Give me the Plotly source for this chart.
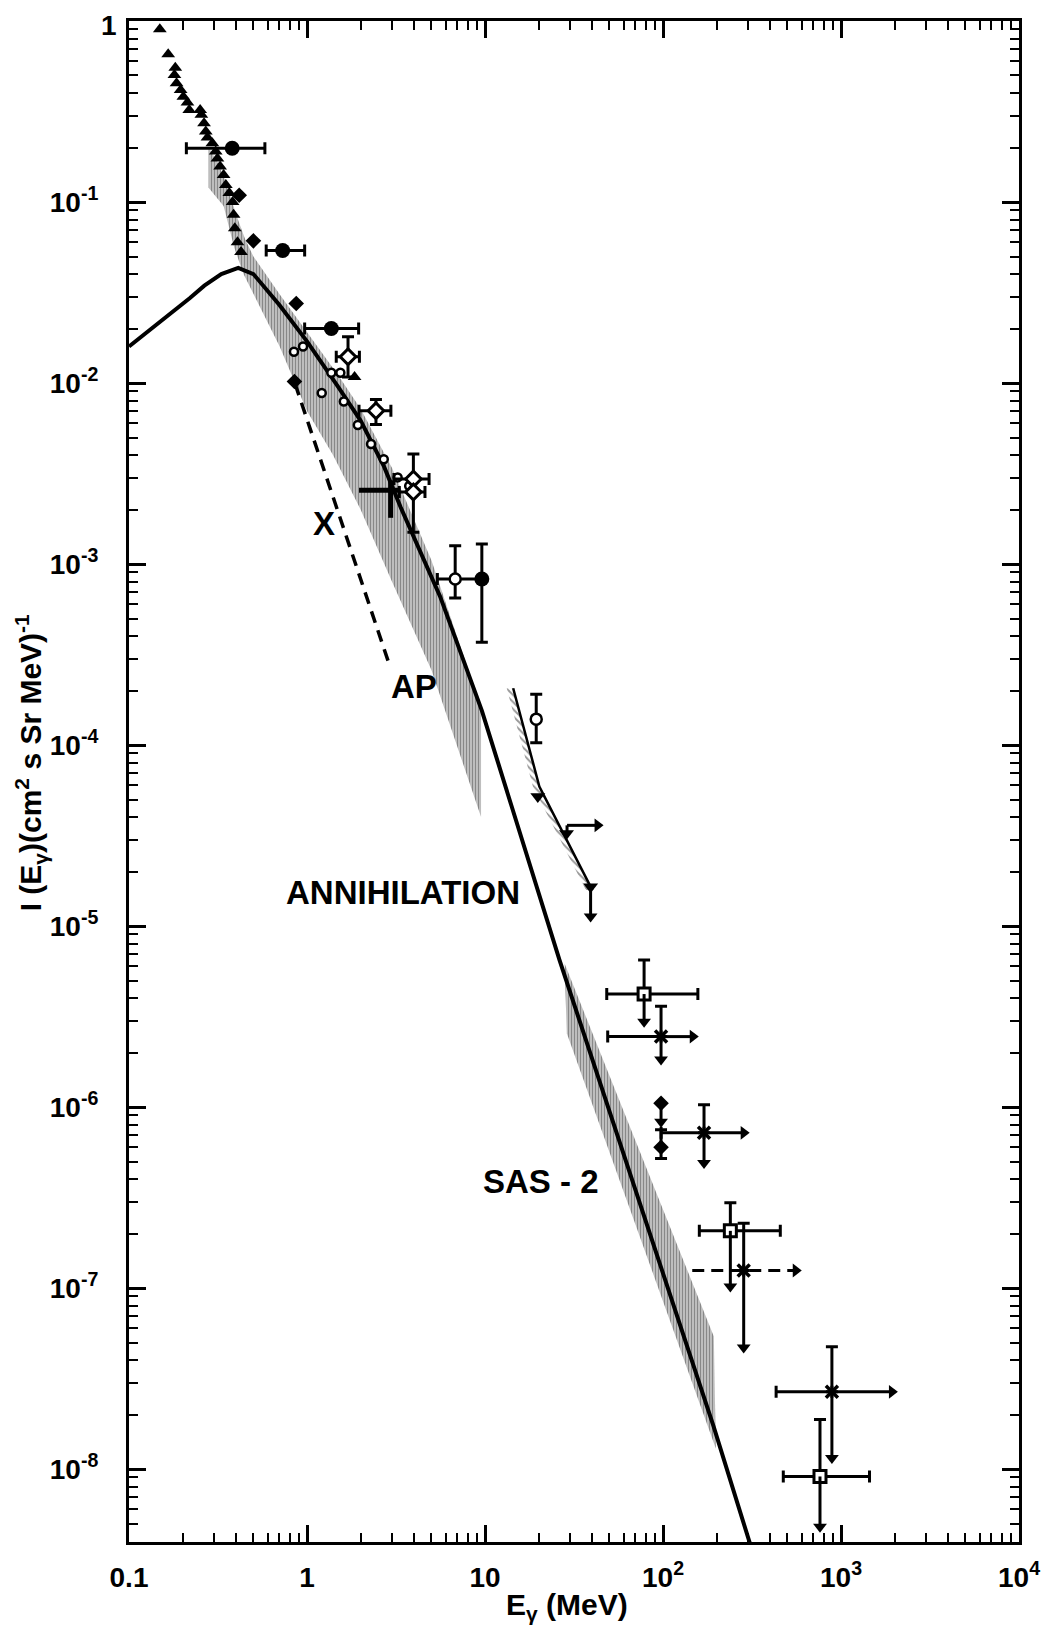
import numpy as np
import plotly.graph_objects as go

# ---------------- data (E in MeV, I in cm^-2 s^-1 sr^-1 MeV^-1) ----------------
# low-energy filled triangles
tri_E = [0.149, 0.166, 0.182, 0.180, 0.185, 0.195, 0.202, 0.213, 0.218, 0.251, 0.255,
         0.264, 0.270, 0.276, 0.294, 0.307, 0.314, 0.325, 0.340, 0.350, 0.366, 0.382,
         0.387, 0.393, 0.407, 0.426, 1.85]
tri_I = [0.90, 0.655, 0.552, 0.503, 0.453, 0.416, 0.382, 0.355, 0.322, 0.322, 0.303,
         0.272, 0.245, 0.227, 0.211, 0.190, 0.174, 0.157, 0.141, 0.124, 0.112, 0.100,
         0.085, 0.0716, 0.060, 0.053, 0.0108]

# filled diamonds inside the band
fd_E = [0.416, 0.50, 0.87, 0.85]
fd_I = [0.109, 0.061, 0.0275, 0.0102]

# filled circles with error bars
fc_E = [0.38, 0.73, 1.37, 9.6]
fc_I = [0.198, 0.054, 0.020, 8.26e-4]
fc_Elo = [0.21, 0.59, 0.97, 9.6]
fc_Ehi = [0.58, 0.97, 1.95, 9.6]
fc_Ilo = [0.198, 0.054, 0.020, 3.7e-4]
fc_Ihi = [0.198, 0.054, 0.020, 1.29e-3]

# open diamonds with error bars
od_E = [1.70, 2.44, 3.96, 3.96]
od_I = [0.01397, 7.03e-3, 2.95e-3, 2.5e-3]
od_Elo = [1.46, 1.96, 3.08, 3.30]
od_Ehi = [1.97, 2.96, 4.85, 4.60]
od_Ilo = [0.0108, 5.9e-3, 2.95e-3, 1.5e-3]
od_Ihi = [0.018, 8.1e-3, 4.05e-3, 2.5e-3]

# small open circles along the band
sc_E = [0.845, 0.95, 1.21, 1.37, 1.54, 1.61, 1.93, 2.29, 2.7, 3.23, 3.75]
sc_I = [0.0149, 0.0159, 8.8e-3, 0.0114, 0.0114, 7.9e-3, 5.86e-3, 4.6e-3, 3.79e-3, 3.01e-3, 2.7e-3]

# larger open circles with error bars
oc_E = [6.8, 19.4]
oc_I = [8.26e-4, 1.39e-4]
oc_Elo = [5.4, 19.4]
oc_Ehi = [9.6, 19.4]
oc_Ilo = [6.5e-4, 1.03e-4]
oc_Ihi = [1.26e-3, 1.91e-4]

# bar-only cross near 3 MeV
tc_E = [2.95]
tc_I = [2.56e-3]
tc_Elo = [1.96]
tc_Ehi = [3.29]
tc_Ilo = [1.8e-3]
tc_Ihi = [2.9e-3]

# hatched band 1 (0.3 - 10 MeV)
b1_up_E = [0.28, 0.31, 0.35, 0.40, 0.45, 0.5, 0.7, 1.0, 1.5, 2.0, 3.0, 5.0, 9.5]
b1_up_I = [0.20, 0.17, 0.13, 0.085, 0.062, 0.050, 0.031, 0.019, 0.011, 0.0072, 0.0034, 0.00105, 0.00016]
b1_lo_E = [9.5, 5.0, 3.0, 2.0, 1.4, 1.0, 0.7, 0.5, 0.44, 0.39, 0.34, 0.28]
b1_lo_I = [4.0e-5, 2.6e-4, 8.0e-4, 2.0e-3, 4.0e-3, 7.0e-3, 0.016, 0.031, 0.040, 0.056, 0.095, 0.12]

# hatched band 2 (SAS-2, 30 - 200 MeV)
b2_E = [28.0, 193.0, 198.0, 28.8]
b2_I = [6.2e-6, 5.4e-8, 1.3e-8, 2.56e-6]

# annihilation model curve
line_E = [0.1, 0.13, 0.171, 0.22, 0.265, 0.33, 0.411, 0.5, 0.7, 1.0, 1.5, 2.0, 2.71, 3.35,
          5.6, 9.6, 26.2, 192.0, 310.0]
line_I = [0.0159, 0.0195, 0.024, 0.0295, 0.0345, 0.040, 0.0433, 0.040, 0.027, 0.017, 0.0095,
          0.0062, 0.00345, 0.00207, 0.00066, 0.000155, 6.5e-6, 1.73e-8, 3.8e-9]

# dashed line (X / AP)
dash_E = [0.857, 2.92]
dash_I = [9.9e-3, 2.73e-4]

# hatched upper-limit line (15 - 40 MeV)
ul_E = [14.4, 20.2, 40.1]
ul_I = [2.06e-4, 5.9e-5, 1.58e-5]

# filled down-triangles near the upper-limit line
dt_E = [19.8, 28.7, 39.2]
dt_I = [5.2e-5, 3.25e-5, 1.65e-5]
dt_arrowI = [5.2e-5, 3.25e-5, 1.13e-5]   # downward arrow tips
dtr_E0 = [28.9]
dtr_I = [3.6e-5]
dtr_E1 = [42.9]

# open squares (upper limits)
sq_E = [78.3, 239.0, 762.0]
sq_I = [4.21e-6, 2.07e-7, 9.1e-9]
sq_Elo = [48.3, 160.0, 474.0]
sq_Ehi = [157.0, 456.0, 1446.0]
sq_Itop = [6.5e-6, 2.96e-7, 1.88e-8]
sq_Iarrow = [2.96e-6, 1.02e-7, 4.8e-9]

# x-marks (upper limits, lower limits in energy)
xm_E = [97.5, 170.0, 284.0, 889.0]
xm_I = [2.45e-6, 7.2e-7, 1.25e-7, 2.67e-8]
xm_Elo = [48.9, 97.6, 146.0, 432.0]
xm_Earrow = [147.0, 284.0, 557.0, 1932.0]
xm_Itop = [3.6e-6, 1.03e-6, 2.28e-7, 4.74e-8]
xm_Iarrow = [1.83e-6, 4.9e-7, 4.7e-8, 1.15e-8]
xm_dashed = [False, False, True, False]

# filled diamonds at 100 MeV
dm_E = [97.5, 97.5]
dm_I = [1.05e-6, 6.0e-7]
dm_Ilo = [1.05e-6, 5.2e-7]
dm_Ihi = [1.05e-6, 7.5e-7]
dm_arrowI = [8.3e-7, 6.0e-7]

# text labels
lab_text = ["X", "AP", "ANNIHILATION", "SAS - 2"]
lab_E = [1.25, 4.0, 3.45, 20.6]
lab_I = [1.68e-3, 2.1e-4, 1.53e-5, 3.9e-7]

# axis ticks
x_tickvals = [0.1, 1, 10, 100, 1000, 10000]
x_ticktext = ["0.1", "1", "10", "10<sup>2</sup>", "10<sup>3</sup>", "10<sup>4</sup>"]
y_tickvals = [1, 1e-1, 1e-2, 1e-3, 1e-4, 1e-5, 1e-6, 1e-7, 1e-8]
y_ticktext = [""] + ["10<sup>-%d</sup>" % k for k in range(1, 9)]   # "1" drawn as annotation
y_top_label = "1"

# ---------------- figure ----------------
K = "black"
FONT = "Liberation Sans, Arial"
fig = go.Figure()


def a(v):
    return np.asarray(v, dtype=float)


def errs(c, lo, hi):
    return dict(type="data", symmetric=False, array=a(hi) - a(c), arrayminus=a(c) - a(lo),
                thickness=3, width=6, color=K)


def segs(x0, y0, x1, y1):
    xs, ys = [], []
    for p, q, r, s in zip(x0, y0, x1, y1):
        xs += [p, r, None]
        ys += [q, s, None]
    return xs, ys


hatch = dict(shape="|", size=3, solidity=0.7, fgcolor="#111111", bgcolor="rgba(0,0,0,0)")
clear = "rgba(0,0,0,0)"

# band 1
fig.add_trace(go.Scatter(x=b1_up_E + b1_lo_E, y=b1_up_I + b1_lo_I, mode="lines", fill="toself",
                         line=dict(width=0, color=clear), fillcolor=clear,
                         fillpattern=hatch, hoverinfo="skip"))
# band 2
fig.add_trace(go.Scatter(x=b2_E, y=b2_I, mode="lines", fill="toself",
                         line=dict(width=0, color=clear), fillcolor=clear,
                         fillpattern=hatch, hoverinfo="skip"))
# hatched upper-limit line: narrow hatched strip on its low-energy side
ulh_E = list(a(ul_E)) + list(a(ul_E)[::-1] * 0.92)
ulh_I = list(a(ul_I)) + list(a(ul_I)[::-1])
fig.add_trace(go.Scatter(x=ulh_E, y=ulh_I, mode="lines", fill="toself",
                         line=dict(width=0, color=clear), fillcolor=clear,
                         fillpattern=dict(shape="\\", size=5, solidity=0.4, fgcolor="#333333",
                                          bgcolor=clear), hoverinfo="skip"))
fig.add_trace(go.Scatter(x=ul_E, y=ul_I, mode="lines", line=dict(color=K, width=2.5)))

# model line
fig.add_trace(go.Scatter(x=line_E, y=line_I, mode="lines", line=dict(color=K, width=4)))
# dashed line
fig.add_trace(go.Scatter(x=dash_E, y=dash_I, mode="lines",
                         line=dict(color=K, width=3.5, dash="12px,8px")))

# triangles
fig.add_trace(go.Scatter(x=tri_E, y=tri_I, mode="markers",
                         marker=dict(symbol="triangle-up", size=12, color=K)))
# filled diamonds in band
fig.add_trace(go.Scatter(x=fd_E, y=fd_I, mode="markers",
                         marker=dict(symbol="diamond", size=12, color=K)))
# filled circles
fig.add_trace(go.Scatter(x=fc_E, y=fc_I, mode="markers",
                         marker=dict(symbol="circle", size=15, color=K),
                         error_x=errs(fc_E, fc_Elo, fc_Ehi), error_y=errs(fc_I, fc_Ilo, fc_Ihi)))
# bar-only cross
fig.add_trace(go.Scatter(x=tc_E, y=tc_I, mode="markers", marker=dict(size=1, color=K),
                         error_x=dict(errs(tc_E, tc_Elo, tc_Ehi), thickness=5, width=0),
                         error_y=dict(errs(tc_I, tc_Ilo, tc_Ihi), thickness=5, width=0)))
# small open circles
fig.add_trace(go.Scatter(x=sc_E, y=sc_I, mode="markers",
                         marker=dict(symbol="circle", size=8, color="white", line=dict(color=K, width=2.5))))
# open diamonds
fig.add_trace(go.Scatter(x=od_E, y=od_I, mode="markers",
                         marker=dict(symbol="diamond", size=12, color="white", line=dict(color=K, width=3)),
                         error_x=errs(od_E, od_Elo, od_Ehi), error_y=errs(od_I, od_Ilo, od_Ihi)))
# open circles with bars
fig.add_trace(go.Scatter(x=oc_E, y=oc_I, mode="markers",
                         marker=dict(symbol="circle", size=11, color="white", line=dict(color=K, width=2.5)),
                         error_x=errs(oc_E, oc_Elo, oc_Ehi), error_y=errs(oc_I, oc_Ilo, oc_Ihi)))

# down triangles + arrows
fig.add_trace(go.Scatter(x=dt_E, y=dt_I, mode="markers",
                         marker=dict(symbol="triangle-down", size=13, color=K)))
sx, sy = segs(dt_E, dt_I, dt_E, dt_arrowI)
fig.add_trace(go.Scatter(x=sx, y=sy, mode="lines", line=dict(color=K, width=3)))
sx, sy = segs(dtr_E0, dtr_I, dtr_E1, dtr_I)
fig.add_trace(go.Scatter(x=sx, y=sy, mode="lines", line=dict(color=K, width=3)))
sx, sy = segs(dtr_E0, dtr_I, dtr_E0, [dt_I[1]])
fig.add_trace(go.Scatter(x=sx, y=sy, mode="lines", line=dict(color=K, width=3)))

# filled diamonds at 100 MeV
fig.add_trace(go.Scatter(x=dm_E, y=dm_I, mode="markers",
                         marker=dict(symbol="diamond", size=12, color=K),
                         error_y=errs(dm_I, dm_Ilo, dm_Ihi)))
sx, sy = segs(dm_E, dm_I, dm_E, dm_arrowI)
fig.add_trace(go.Scatter(x=sx, y=sy, mode="lines", line=dict(color=K, width=3)))

# open squares
fig.add_trace(go.Scatter(x=sq_E, y=sq_I, mode="markers",
                         marker=dict(symbol="square", size=12, color="white", line=dict(color=K, width=3)),
                         error_x=errs(sq_E, sq_Elo, sq_Ehi), error_y=errs(sq_I, sq_I, sq_Itop)))
sx, sy = segs(sq_E, sq_I, sq_E, sq_Iarrow)
fig.add_trace(go.Scatter(x=sx, y=sy, mode="lines", line=dict(color=K, width=3)))

# x-marks
xm_lo_used = [xm_E[i] if xm_dashed[i] else xm_Elo[i] for i in range(len(xm_E))]
sol = [i for i in range(len(xm_E)) if not xm_dashed[i]]
das = [i for i in range(len(xm_E)) if xm_dashed[i]]
sx, sy = segs([xm_E[i] for i in sol], [xm_I[i] for i in sol],
              [xm_Earrow[i] for i in sol], [xm_I[i] for i in sol])
fig.add_trace(go.Scatter(x=sx, y=sy, mode="lines", line=dict(color=K, width=3)))
sx, sy = segs([xm_Elo[i] for i in das], [xm_I[i] for i in das],
              [xm_Earrow[i] for i in das], [xm_I[i] for i in das])
fig.add_trace(go.Scatter(x=sx, y=sy, mode="lines", line=dict(color=K, width=3, dash="12px,7px")))
sx, sy = segs(xm_E, xm_I, xm_E, xm_Iarrow)
fig.add_trace(go.Scatter(x=sx, y=sy, mode="lines", line=dict(color=K, width=3)))
fig.add_trace(go.Scatter(x=xm_E, y=xm_I, mode="markers",
                         marker=dict(symbol="x-thin", size=12, color=K, line=dict(color=K, width=3.5)),
                         error_x=errs(xm_E, xm_lo_used, xm_E), error_y=errs(xm_I, xm_I, xm_Itop)))

# arrow heads
down_x = list(sq_E) + list(xm_E) + [dt_E[2], dm_E[0]]
down_y = list(sq_Iarrow) + list(xm_Iarrow) + [dt_arrowI[2], dm_arrowI[0]]
fig.add_trace(go.Scatter(x=down_x, y=down_y, mode="markers",
                         marker=dict(symbol="triangle-down", size=12, color=K)))
right_x = list(xm_Earrow) + list(dtr_E1)
right_y = list(xm_I) + list(dtr_I)
fig.add_trace(go.Scatter(x=right_x, y=right_y, mode="markers",
                         marker=dict(symbol="triangle-right", size=12, color=K)))

# labels
for t, e, i in zip(lab_text, lab_E, lab_I):
    fig.add_annotation(x=np.log10(e), y=np.log10(i), xref="x", yref="y", text=t, showarrow=False,
                       font=dict(size=33, color=K, family=FONT, weight="bold"))

# top y tick label "1", kept inside the page
fig.add_annotation(xref="paper", yref="paper", x=-0.0225, y=1, xanchor="center", yanchor="top",
                   yshift=13, showarrow=False, text=y_top_label,
                   font=dict(size=28, color=K, family=FONT, weight="bold"))

# axis titles as annotations (placed like the reference)
fig.add_annotation(xref="paper", yref="paper", x=-0.110, y=0.512, textangle=-90,
                   xanchor="center", yanchor="middle", showarrow=False,
                   text="I (E<sub>γ</sub>)(cm<sup>2</sup> s Sr MeV)<sup>-1</sup>",
                   font=dict(size=30, color=K, family=FONT, weight="bold"))
fig.add_annotation(xref="paper", yref="paper", x=0.492, y=-0.0427,
                   xanchor="center", yanchor="middle", showarrow=False,
                   text="E<sub>γ</sub> (MeV)",
                   font=dict(size=30, color=K, family=FONT, weight="bold"))

x_minor = [k * 10.0 ** n for n in range(-1, 4) for k in range(2, 10)]
y_minor = [k * 10.0 ** n for n in range(-9, 0) for k in range(2, 10)]

tickfont = dict(size=28, color=K, family=FONT, weight="bold")
# the page body adds an 8 px offset, so the margins are shifted to compensate
fig.update_layout(
    width=1056, height=1631,
    margin=dict(l=121, r=45, t=13, b=97),
    paper_bgcolor="white", plot_bgcolor="white",
    showlegend=False,
    font=dict(family=FONT, color=K),
    xaxis=dict(type="log", range=[-1, 4], tickmode="array", tickvals=x_tickvals, ticktext=x_ticktext,
               ticks="inside", ticklen=17, tickwidth=2.5, tickcolor=K, automargin=False,
               showline=True, linewidth=3, linecolor=K, mirror="allticks",
               showgrid=False, zeroline=False, tickfont=tickfont, ticklabelstandoff=8,
               ticklabeloverflow="allow",
               minor=dict(tickmode="array", tickvals=x_minor, ticks="inside", ticklen=9,
                          tickwidth=2, tickcolor=K, showgrid=False)),
    yaxis=dict(type="log", range=[-8.403, 0], tickmode="array", tickvals=y_tickvals, ticktext=y_ticktext,
               ticks="inside", ticklen=17, tickwidth=2.5, tickcolor=K, automargin=False,
               showline=True, linewidth=3, linecolor=K, mirror="allticks",
               showgrid=False, zeroline=False, tickfont=tickfont, ticklabelstandoff=22,
               ticklabeloverflow="allow",
               minor=dict(tickmode="array", tickvals=y_minor, ticks="inside", ticklen=9,
                          tickwidth=2, tickcolor=K, showgrid=False)),
)

fig.write_html("out.html")
